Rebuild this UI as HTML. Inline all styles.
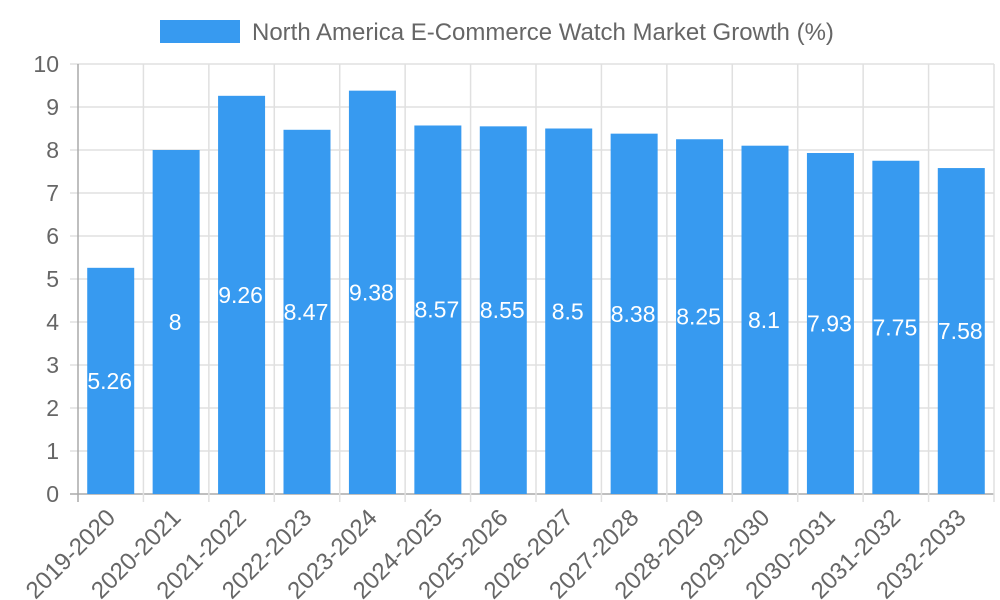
<!DOCTYPE html>
<html><head><meta charset="utf-8"><style>body{margin:0;background:#fff}svg{display:block;font-family:"Liberation Sans",sans-serif}</style></head>
<body>
<svg id="chart" width="1000" height="600">
<rect x="160" y="20" width="80" height="23" fill="#379af0"/>
<text x="252" y="40" font-size="24" fill="#666">North America E-Commerce Watch Market Growth (%)</text>
<g id="grid"></g><g id="bars"></g><g id="labels"></g>
</svg>
<script>
const categories=["2019-2020","2020-2021","2021-2022","2022-2023","2023-2024","2024-2025","2025-2026","2026-2027","2027-2028","2028-2029","2029-2030","2030-2031","2031-2032","2032-2033"];
const values=[5.26,8,9.26,8.47,9.38,8.57,8.55,8.5,8.38,8.25,8.1,7.93,7.75,7.58];
const yTicks=[0,1,2,3,4,5,6,7,8,9,10];
const NS="http://www.w3.org/2000/svg";
const L=78,R=994,T=64,B=494,yMax=10;
const bw=(R-L)/categories.length;
const y=v=>B-(v/yMax)*(B-T);
const xc=i=>L+bw*(i+0.5);
function mk(tag,attrs,parent){const e=document.createElementNS(NS,tag);for(const k in attrs)e.setAttribute(k,attrs[k]);parent.appendChild(e);return e;}
const grid=document.getElementById('grid'),bars=document.getElementById('bars'),labels=document.getElementById('labels');
yTicks.forEach(t=>{
  const ln=mk('line',{x1:70,x2:R,y1:y(t),y2:y(t),stroke:t===0?'#aaa':'#e0e0e0','stroke-width':1.5},grid);
  
  
  const tx=mk('text',{x:59,y:y(t)+8,'text-anchor':'end','font-size':23,fill:'#666'},grid);
  tx.textContent=t;
  
  
});
for(let i=0;i<=categories.length;i++){
  const x=L+bw*i;
  const ln=mk('line',{x1:x,x2:x,y1:T,y2:B+8,stroke:i===0?'#aaa':'#e0e0e0','stroke-width':1.5},grid);
  
  
}
categories.forEach((c,i)=>{
  const w=47;
  const r=mk('rect',{x:xc(i)-w/2,y:y(values[i]),width:w,height:B-y(values[i]),fill:'#379af0'},bars);
  
  
  const v=mk('text',{x:xc(i)-1,y:(y(values[i])+B)/2+8,'text-anchor':'middle','font-size':23,fill:'#fff'},labels);
  v.textContent=values[i];
  
  
  const cx=xc(i)-6,cy=507;
  const t=mk('text',{x:cx,y:cy+17,'text-anchor':'end','font-size':24,fill:'#666',transform:`rotate(-45 ${cx} ${cy})`},labels);
  t.textContent=c;
  
  
});
</script>
</body></html>
